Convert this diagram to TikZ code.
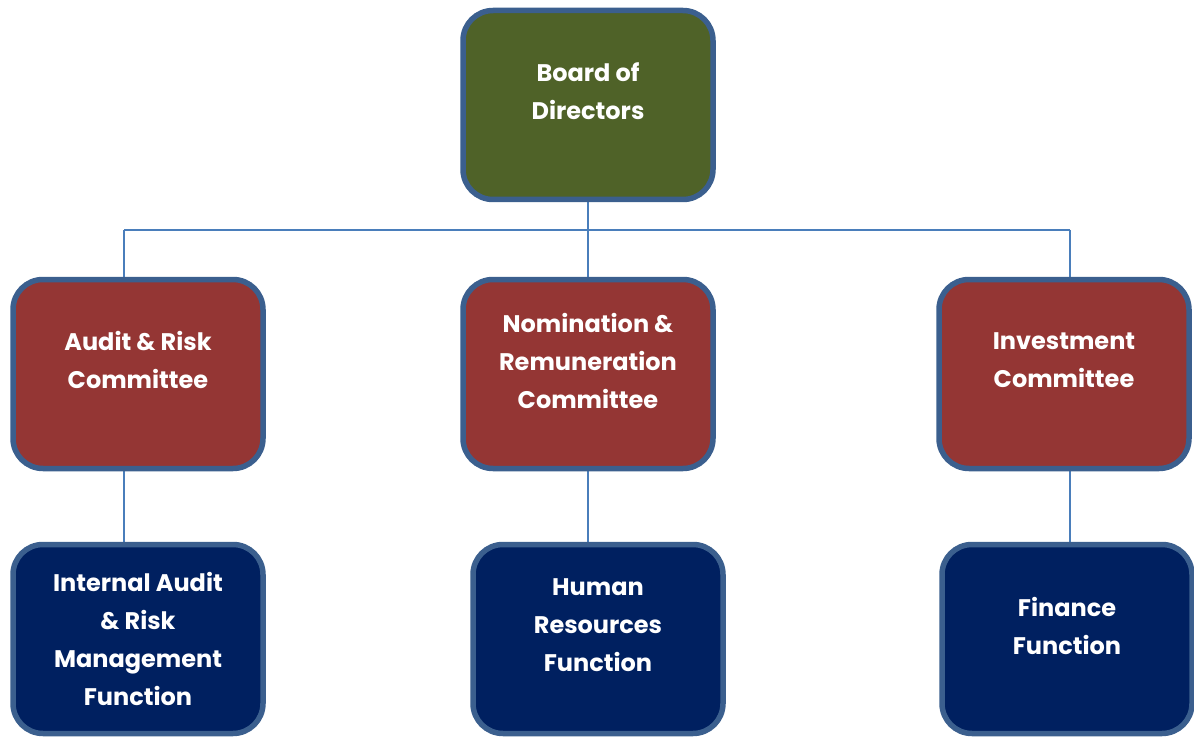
\documentclass[tikz,border=0pt]{standalone}
\usepackage{fontspec}
\setmainfont{Poppins}
\usetikzlibrary{backgrounds,calc}
\definecolor{olive}{HTML}{4F6228}
\definecolor{brick}{HTML}{943634}
\definecolor{navy}{HTML}{002060}
\definecolor{rim}{HTML}{3B5F8E}
\definecolor{wire}{HTML}{4A7EBB}
\tikzset{
  box/.style={draw=rim, line width=5.5pt, rounded corners=30pt, minimum width=250pt, minimum height=189pt, inner sep=0pt},
  topbox/.style={box, fill=olive},
  combox/.style={box, fill=brick},
  funbox/.style={box, fill=navy},
  txt/.style={text=white, align=center, font=\fontsize{24}{37.7}\selectfont\bfseries},
  wireline/.style={draw=wire, line width=1.6pt}
}
\begin{document}
\begin{tikzpicture}[x=1pt,y=-1pt]
\useasboundingbox (0,0) rectangle (1194,738);
\node[topbox] (board) at (588,105) {};
\node[combox] (audit) at (138,374) {};
\node[combox] (nom) at (588,374) {};
\node[combox] (inv) at (1064,374) {};
\node[funbox] (ia) at (138,639) {};
\node[funbox] (hr) at (598,639) {};
\node[funbox] (fin) at (1067,639) {};
\node[txt] (boardT) at ($(board.center)+(0,-14)$) {Board of\\Directors};
\node[txt] (auditT) at ($(audit.center)+(0,-14)$) {Audit \& Risk\\Committee};
\node[txt] (nomT) at ($(nom.center)+(0,-13)$) {Nomination \&\\Remuneration\\Committee};
\node[txt] (invT) at ($(inv.center)+(0,-14)$) {Investment\\Committee};
\node[txt] (iaT) at ($(ia.center)+(0,0)$) {Internal Audit\\\& Risk\\Management\\Function};
\node[txt] (hrT) at ($(hr.center)+(0,-14)$) {Human\\Resources\\Function};
\node[txt] (finT) at ($(fin.center)+(0,-13)$) {Finance\\Function};
\coordinate (bus) at (588,230);
\coordinate (busL) at (124,230);
\coordinate (busR) at (1070,230);
\begin{scope}[on background layer]
\draw[wireline] (board.south) -- (nom.north);
\draw[wireline] (busL) -- (busR);
\draw[wireline] (busL) -- (busL |- audit.north);
\draw[wireline] (busR) -- (busR |- inv.north);
\draw[wireline] (busL |- audit.south) -- (busL |- ia.north);
\draw[wireline] (nom.south) -- (nom.south |- hr.north);
\draw[wireline] (busR |- inv.south) -- (busR |- fin.north);
\end{scope}
\end{tikzpicture}
\end{document}
